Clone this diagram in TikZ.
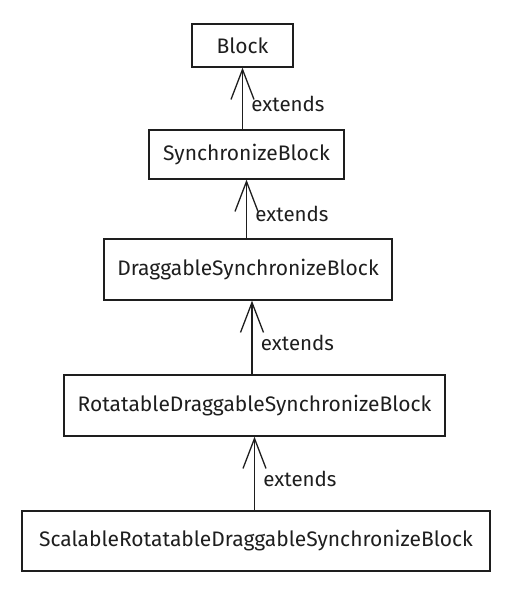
\documentclass[tikz,border=0pt]{standalone}
\usepackage{fontspec}
\setmainfont{Fira Sans}
\usetikzlibrary{arrows.meta}
\definecolor{ink}{RGB}{30,30,30}

\begin{document}
\begin{tikzpicture}[x=1pt,y=-1pt,
  classbox/.style={draw=ink,line width=1.3pt,inner sep=0pt,
    font=\fontsize{21}{24}\selectfont,text=ink},
  extarrow/.style={draw=ink,line width=1.3pt,
    -{Straight Barb[length=30pt,width=23pt,line width=1.3pt]}},
  extlabel/.style={right,xshift=5pt,font=\fontsize{20.5}{24}\selectfont,text=ink}]
\useasboundingbox (0,0) rectangle (522,599);

\node [classbox,minimum width=101pt,minimum height=43pt] (block) at (242.5,45.5) {Block};
\node [classbox,minimum width=195pt,minimum height=49pt] (sync) at (246.5,154.5) {SynchronizeBlock};
\node [classbox,minimum width=288pt,minimum height=61pt] (drag) at (248,269.5) {DraggableSynchronizeBlock};
\node [classbox,minimum width=381pt,minimum height=61pt] (rot) at (254.5,405.5) {RotatableDraggableSynchronizeBlock};
\node [classbox,minimum width=468pt,minimum height=60pt] (scal) at (256,541) {ScalableRotatableDraggableSynchronizeBlock};

\draw [extarrow] (sync.north -| block.south) -- (block.south) node [extlabel,pos=0.42] {extends};
\draw [extarrow] (drag.north -| sync.south) -- (sync.south) node [extlabel,pos=0.42] {extends};
\draw [extarrow] ([xshift=4pt]drag.south |- rot.north) -- ([xshift=4pt]drag.south) node [extlabel,pos=0.42] {extends};
\draw [extarrow] (scal.north -| rot.south) -- (rot.south) node [extlabel,pos=0.42] {extends};
\end{tikzpicture}
\end{document}
